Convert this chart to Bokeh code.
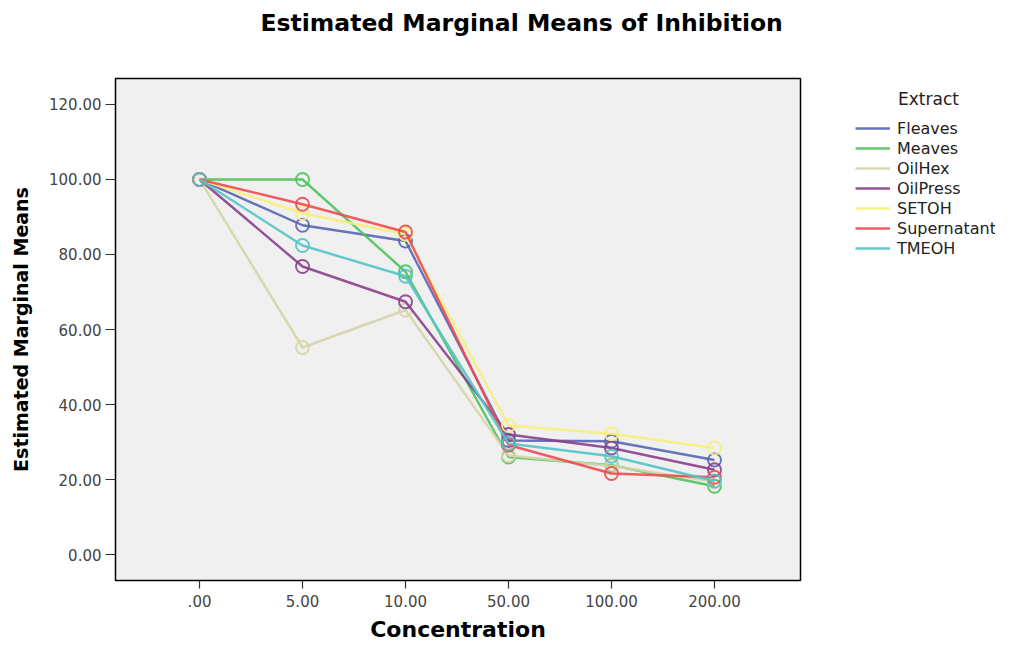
from bokeh.plotting import figure
from bokeh.layouts import row
from bokeh.models import Range1d, Legend, LegendItem, Title, FixedTicker, Label
from bokeh.embed import file_html
from bokeh.resources import INLINE

concentrations = [".00", "5.00", "10.00", "50.00", "100.00", "200.00"]
extracts = ["Fleaves", "Meaves", "OilHex", "OilPress", "SETOH", "Supernatant", "TMEOH"]
fleaves = [100.0, 87.8, 83.6, 30.4, 30.2, 25.2]
meaves = [100.0, 100.0, 75.4, 26.0, 23.8, 18.2]
oilhex = [100.0, 55.2, 65.2, 26.4, 23.6, 19.4]
oilpress = [100.0, 76.8, 67.4, 32.0, 28.4, 22.6]
setoh = [100.0, 91.0, 85.4, 34.4, 32.2, 28.4]
supernatant = [100.0, 93.4, 86.0, 29.2, 21.6, 20.6]
tmeoh = [100.0, 82.4, 74.2, 29.6, 26.2, 19.6]
series = [fleaves, meaves, oilhex, oilpress, setoh, supernatant, tmeoh]
colors = ["#5865b5", "#4cc25a", "#d6d4a8", "#8a3f8d", "#f5f07a", "#ee4b50", "#52c3c8"]
y_ticks = [0, 20, 40, 60, 80, 100, 120]

FONT = "DejaVu Sans"
H = 646

p = figure(width=805, height=H, output_backend="svg", toolbar_location=None,
           x_range=Range1d(-0.816, 5.835), y_range=Range1d(-6.93, 126.93),
           min_border_left=115, min_border_right=5, min_border_top=78, min_border_bottom=66)
p.background_fill_color = "#f0f0f0"
p.border_fill_color = "white"
p.outline_line_color = "black"
p.outline_line_width = 1.5
p.grid.visible = False

# invisible spacer between frame and title
p.add_layout(Title(text="\u00a0", text_font_size="10px", standoff=24), "above")
p.add_layout(Title(text="Estimated Marginal Means of Inhibition", align="left", offset=145,
                   text_font=FONT, text_font_size="23.5px", text_font_style="bold",
                   text_color="black", standoff=10), "above")

xs = list(range(len(concentrations)))
for name, vals, col in zip(extracts, series, colors):
    p.line(xs, vals, line_color=col, line_width=2.4, line_alpha=0.9)
    p.scatter(xs, vals, marker="circle", size=13, fill_color=None, line_color=col,
              line_width=1.9, line_alpha=0.9)

p.xaxis.ticker = FixedTicker(ticks=xs)
p.xaxis.major_label_overrides = {i: c for i, c in enumerate(concentrations)}
p.yaxis.ticker = FixedTicker(ticks=y_ticks)
p.yaxis.major_label_overrides = {t: f"{t:.2f}" for t in y_ticks}
for ax in (p.xaxis, p.yaxis):
    ax.axis_line_color = None
    ax.minor_tick_line_color = None
    ax.major_tick_in = 0
    ax.major_tick_line_color = "#333333"
    ax.major_tick_line_width = 1.2
    ax.major_label_text_font = FONT
    ax.major_label_text_font_size = "15px"
    ax.major_label_text_color = "#444444"
    ax.axis_label_text_font = FONT
    ax.axis_label_text_font_style = "bold"
    ax.axis_label_text_color = "black"
p.xaxis.major_tick_out = 8
p.yaxis.major_tick_out = 10
p.xaxis.axis_label = "Concentration"
p.yaxis.axis_label = "Estimated Marginal Means"
p.xaxis.axis_label_text_font_size = "22px"
p.yaxis.axis_label_text_font_size = "19px"
p.xaxis.major_label_standoff = 6
p.yaxis.major_label_standoff = 4
p.xaxis.axis_label_standoff = 7
p.yaxis.axis_label_standoff = 14

# legend panel
lg = figure(width=190, height=H, output_backend="svg", toolbar_location=None,
            x_range=Range1d(0, 1), y_range=Range1d(0, 1),
            min_border_left=0, min_border_right=0, min_border_top=0, min_border_bottom=0)
lg.axis.visible = False
lg.grid.visible = False
lg.outline_line_color = None
lg.background_fill_color = "white"
items = []
for name, col in zip(extracts, colors):
    r = lg.line([-5, -4], [-5, -4], line_color=col, line_width=2.4, line_alpha=0.9)
    items.append(LegendItem(label=name, renderers=[r]))
legend = Legend(items=items, location=(50, 322), padding=0, margin=0, spacing=0,
                glyph_width=35, glyph_height=20, label_height=20, label_standoff=7,
                label_text_font=FONT, label_text_font_size="16px", label_text_color="#222222",
                border_line_color=None, background_fill_alpha=0)
lg.add_layout(legend, "center")
lg.add_layout(Label(x=123, y=482, x_units="screen", y_units="screen", text="Extract",
                    text_font=FONT, text_font_size="17px", text_color="#222222",
                    text_align="center", text_baseline="middle"))

layout = row(p, lg)
open("out.html", "w").write(file_html(layout, INLINE))
